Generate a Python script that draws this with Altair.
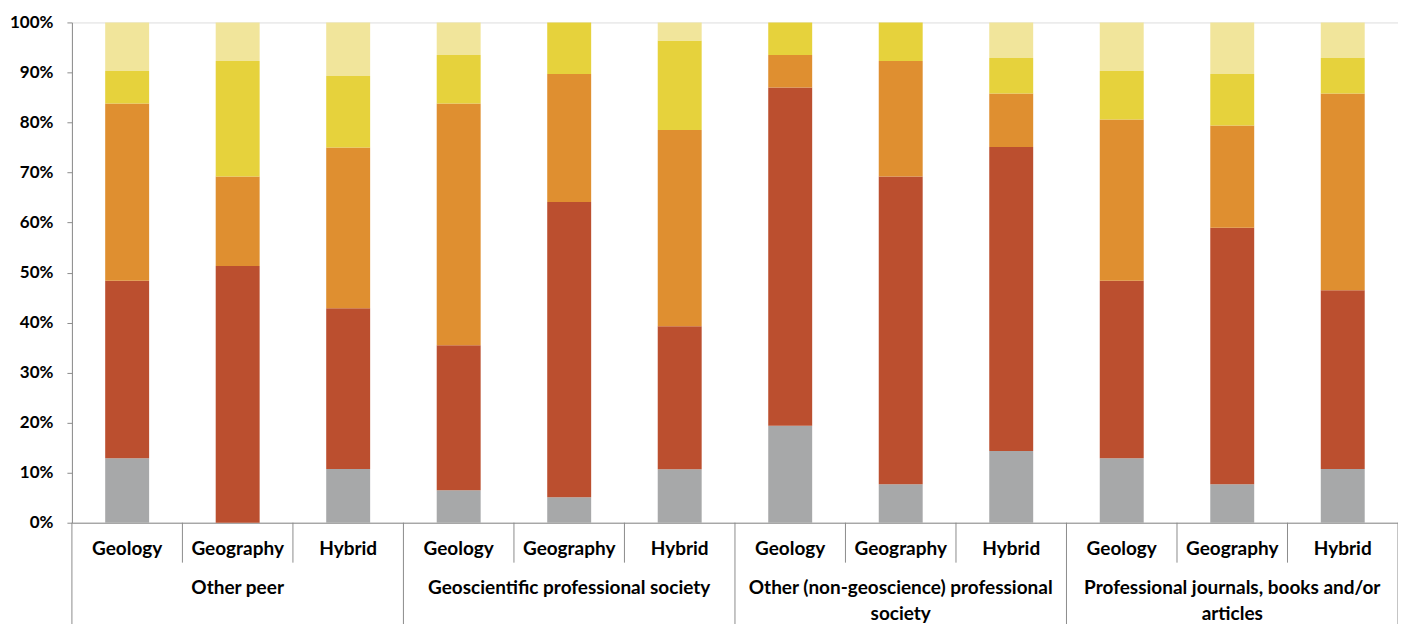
import json
import altair as alt
import pandas as pd

# ---- data (percent of respondents) ----
groups = [
    "Other peer",
    "Geoscientific professional society",
    "Other (non-geoscience) professional\nsociety",
    "Professional journals, books and/or\narticles",
]
disciplines = ["Geology", "Geography", "Hybrid"]
series = ["Level 1", "Level 2", "Level 3", "Level 4", "Level 5"]  # bottom -> top
colors = ["#A7A8A9", "#BB4F2F", "#DF8F30", "#E6D23C", "#F1E59B"]

s1 = [12.9, 0.0, 10.7, 6.5, 5.1, 10.7, 19.4, 7.7, 14.3, 12.9, 7.7, 10.7]
s2 = [35.5, 51.3, 32.1, 29.0, 59.0, 28.6, 67.7, 61.5, 60.7, 35.5, 51.3, 35.7]
s3 = [35.5, 17.9, 32.1, 48.4, 25.6, 39.3, 6.5, 23.1, 10.7, 32.3, 20.5, 39.3]
s4 = [6.5, 23.1, 14.3, 9.7, 10.3, 17.9, 6.5, 7.7, 7.1, 9.7, 10.3, 7.1]
s5 = [9.7, 7.7, 10.7, 6.5, 0.0, 3.6, 0.0, 0.0, 7.1, 9.7, 10.3, 7.1]
values = [s1, s2, s3, s4, s5]

# ---- tables ----
rows = []
for si, (name, vals) in enumerate(zip(series, values)):
    for pos, v in enumerate(vals):
        rows.append({"pos": pos, "series": name, "order": si, "value": v,
                     "group": groups[pos // 3], "discipline": disciplines[pos % 3]})
df = pd.DataFrame(rows)

n = len(s1)
W, H = 1328, 501
BOTTOM = 108
FONT = "Lato"
GRAY = "#8C8C8C"

x_scale = alt.Scale(domain=list(range(n)), paddingInner=0, paddingOuter=0)
label_expr = json.dumps(disciplines) + "[datum.value % " + str(len(disciplines)) + "]"

bars = alt.Chart(df).mark_bar(width=44).encode(
    x=alt.X("pos:O", scale=x_scale, title=None,
            axis=alt.Axis(labelExpr=label_expr, labelAngle=0, ticks=False, tickSize=0,
                          labelPadding=26, labelFont=FONT, labelFontSize=19,
                          labelFontWeight="bold", labelColor="#000000",
                          labelBaseline="middle",
                          domainColor=GRAY, domainWidth=1, grid=False)),
    y=alt.Y("value:Q", stack="normalize", title=None,
            scale=alt.Scale(domain=[0, 1], nice=False),
            axis=alt.Axis(format=".0%", values=[i / 10 for i in range(11)],
                          labelFont=FONT, labelFontSize=17, labelFontWeight="bold",
                          labelColor="#000000", labelPadding=14, tickSize=5,
                          tickColor=GRAY, domainColor=GRAY, grid=False)),
    color=alt.Color("series:N", scale=alt.Scale(domain=series, range=colors), legend=None),
    order=alt.Order("order:Q", sort="ascending"),
)

# separators between categories
sep_df = pd.DataFrame({"pos": list(range(n)), "long": [p % 3 == 0 for p in range(n)]})

short_sep = alt.Chart(sep_df[~sep_df["long"]]).mark_rule(color=GRAY, strokeWidth=1).encode(
    x=alt.X("pos:O", scale=x_scale, bandPosition=0),
    y=alt.value(H), y2=alt.value(H + 40),
)
long_sep = alt.Chart(sep_df[sep_df["long"]]).mark_rule(color=GRAY, strokeWidth=1).encode(
    x=alt.X("pos:O", scale=x_scale, bandPosition=0),
    y=alt.value(H), y2=alt.value(H + BOTTOM),
)
end_sep = alt.Chart(pd.DataFrame({"pos": [n - 1]})).mark_rule(color=GRAY, strokeWidth=1).encode(
    x=alt.X("pos:O", scale=x_scale, bandPosition=1),
    y=alt.value(H), y2=alt.value(H + BOTTOM),
)

# group labels centred under the middle category of each group
grp_df = pd.DataFrame({"pos": [g * 3 + 1 for g in range(len(groups))], "label": groups})
grp_text = alt.Chart(grp_df).mark_text(
    font=FONT, fontSize=19, fontWeight="bold", color="#000000",
    baseline="middle", align="center", lineBreak="\n", lineHeight=26,
).encode(
    x=alt.X("pos:O", scale=x_scale),
    y=alt.value(H + 65),
    text="label:N",
)

chart = alt.layer(bars, short_sep, long_sep, end_sep, grp_text).properties(
    width=W, height=H,
    autosize=alt.AutoSizeParams(type="none"),
    padding={"left": 64, "top": 14, "right": 0, "bottom": BOTTOM},
).configure_view(stroke=None).configure(background="#FFFFFF")

chart.save("out.html", embed_options={"renderer": "svg", "actions": False})
